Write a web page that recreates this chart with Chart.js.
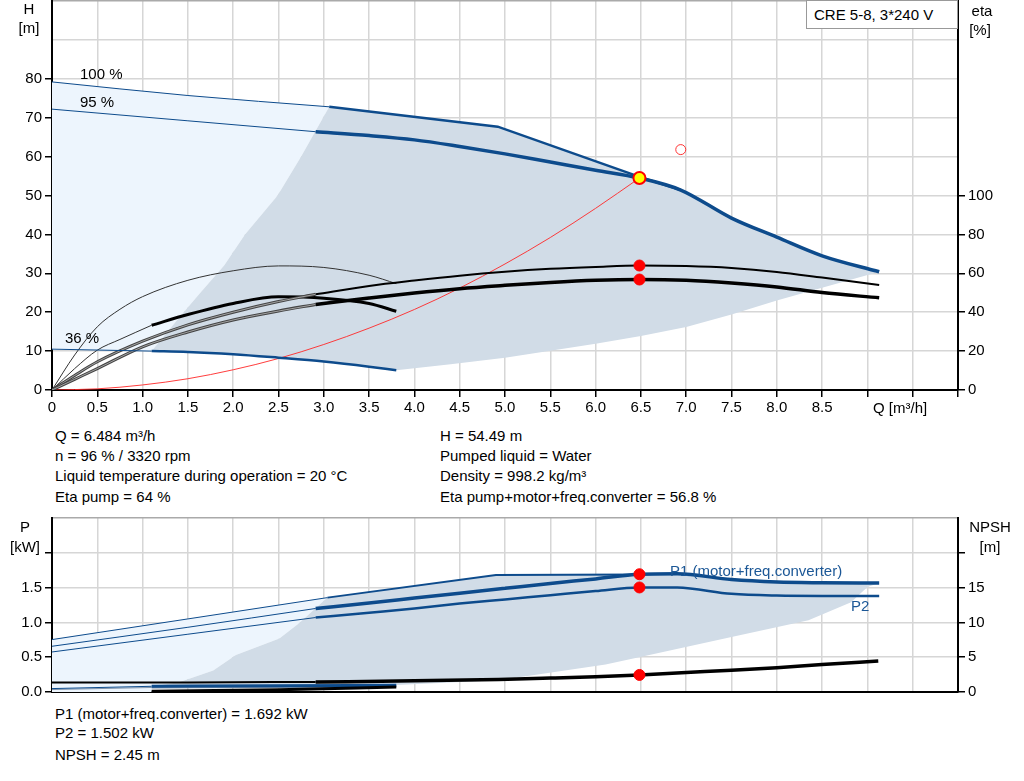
<!DOCTYPE html>
<html>
<head>
<meta charset="utf-8">
<script src="https://cdn.jsdelivr.net/npm/chart.js@4.4.1/dist/chart.umd.min.js"></script>
<style>
  body { margin: 0; background: #fff; width: 1024px; height: 781px; position: relative; overflow: hidden;
         font-family: "Liberation Sans", Arial, sans-serif; font-size: 15px; color: #000; }
  canvas { position: absolute; left: 0; }
  .t { position: absolute; white-space: nowrap; line-height: 18px; }
  .c { text-align: center; }
</style>
</head>
<body>
<canvas id="topChart" width="1024" height="420" style="top:0"></canvas>
<canvas id="botChart" width="1024" height="188" style="top:516px"></canvas>

<div class="t" style="left:806px;top:0;width:150px;height:27px;border:1px solid #999;background:#fff;">
  <span style="position:absolute;left:7px;top:5px">CRE 5-8, 3*240 V</span></div>
<div class="t c" style="left:14px;top:0;width:30px">H</div>
<div class="t c" style="left:14px;top:19px;width:30px">[m]</div>
<div class="t c" style="left:962px;top:2px;width:40px">eta</div>
<div class="t c" style="left:960px;top:21px;width:40px">[%]</div>
<div class="t" style="left:873px;top:399px">Q [m³/h]</div>
<div class="t" style="left:80px;top:65px">100 %</div>
<div class="t" style="left:80px;top:93px">95 %</div>
<div class="t" style="left:65px;top:329px">36 %</div>

<div class="t" style="left:55px;top:427px">Q = 6.484 m³/h</div>
<div class="t" style="left:55px;top:447px">n = 96 % / 3320 rpm</div>
<div class="t" style="left:55px;top:467px">Liquid temperature during operation = 20 °C</div>
<div class="t" style="left:55px;top:488px">Eta pump = 64 %</div>
<div class="t" style="left:440px;top:427px">H = 54.49 m</div>
<div class="t" style="left:440px;top:447px">Pumped liquid = Water</div>
<div class="t" style="left:440px;top:467px">Density = 998.2 kg/m³</div>
<div class="t" style="left:440px;top:488px">Eta pump+motor+freq.converter = 56.8 %</div>

<div class="t c" style="left:5px;top:518px;width:40px">P</div>
<div class="t c" style="left:5px;top:538px;width:40px">[kW]</div>
<div class="t c" style="left:965px;top:518px;width:50px">NPSH</div>
<div class="t c" style="left:965px;top:538px;width:50px">[m]</div>
<div class="t" style="left:670px;top:562px;color:#1b5796">P1 (motor+freq.converter)</div>
<div class="t" style="left:851px;top:597px;color:#1b5796">P2</div>

<div class="t" style="left:55px;top:705px">P1 (motor+freq.converter) = 1.692 kW</div>
<div class="t" style="left:55px;top:724px">P2 = 1.502 kW</div>
<div class="t" style="left:55px;top:746px">NPSH = 2.45 m</div>

<script>
// ---- H chart data (Q in m3/h, H in m) ----
const q100Thin = [0, 1.5, 3.06];
const h100Thin = [79.2, 75.7, 72.8];
const q100 = [3.06, 4.92, 6.51, 6.94];
const h100 = [72.8, 67.7, 54.6, 51.4];
const q95Thin = [0, 1.5, 2.91];
const h95Thin = [72.2, 69.2, 66.4];
const q95 = [2.91, 3.5, 4.0, 4.5, 5.0, 5.5, 6.0, 6.484, 6.94, 7.5, 8.0, 8.5, 9.13];
const h95 = [66.4, 65.4, 64.3, 62.6, 60.7, 58.6, 56.5, 54.49, 51.4, 44.2, 39.3, 34.5, 30.4];
const q36Thin = [0, 1.1];
const h36Thin = [10.5, 10.0];
const q36 = [1.1, 1.5, 2.0, 2.5, 3.0, 3.5, 3.8];
const h36 = [10.0, 9.8, 9.2, 8.3, 7.3, 6.0, 5.1];
const qSys = [0, 0.5, 1, 1.5, 2, 2.5, 3, 3.5, 4, 4.5, 5, 5.5, 6, 6.484];
const hSys = [0, 0.3, 1.3, 2.9, 5.2, 8.1, 11.7, 15.9, 20.7, 26.2, 32.4, 39.2, 46.7, 54.49];
// area edges
const qAreaLeft = [1.1, 1.4, 1.63, 1.9, 2.13, 2.49, 2.75, 3.06];
const hAreaLeft = [10.0, 18.5, 24.8, 32, 40, 50, 60, 72.8];
const qAreaTop = [4.92, 6.51, 6.94, 7.5, 8.0, 8.5, 9.13];
const hAreaTop = [67.7, 54.6, 51.4, 44.2, 39.3, 34.5, 30.4];
const qAreaLow = [9.13, 8.5, 8.0, 7.5, 7.0, 6.5, 6.0, 5.0, 4.4, 3.8];
const hAreaLow = [30.4, 26.3, 23.0, 19.4, 16.2, 13.9, 11.9, 8.3, 6.6, 5.1];

// ---- eta data (%) ----
const qEtaPumpThin = [0, 0.25, 0.5, 1.0, 1.5, 2.0, 2.5, 2.91];
const etaPumpThin = [0, 7.5, 14.5, 25.1, 33.5, 40, 45.5, 49.2];
const qEtaPump = [2.91, 3.5, 4.0, 4.5, 5.0, 5.5, 6.0, 6.484, 7.0, 7.5, 8.0, 8.5, 9.13];
const etaPump = [49.2, 53.5, 56.3, 58.8, 60.8, 62.3, 63.3, 64, 63.7, 62.7, 60.7, 57.8, 54.0];
const qEtaTotThin = [0, 0.25, 0.5, 1.0, 1.5, 2.0, 2.5, 2.91];
const etaTotThin = [0, 5.5, 11, 22.2, 29.8, 36, 40.6, 44];
const qEtaTot = [2.91, 3.5, 4.0, 4.5, 5.0, 5.5, 6.0, 6.484, 7.0, 7.5, 8.0, 8.5, 9.13];
const etaTot = [44, 47.3, 49.9, 52.1, 53.8, 55.3, 56.4, 56.8, 56.4, 55.0, 53.0, 50.1, 47.4];
const qEtaPump36 = [0, 0.25, 0.5, 0.75, 1.0, 1.5, 2.0, 2.5, 3.0, 3.5, 3.8];
const etaPump36 = [0, 18, 32.5, 41.5, 48, 56.4, 61.3, 63.8, 63, 59, 54.7];
const qEtaTot36Thin = [0, 0.25, 0.5, 0.75, 1.1];
const etaTot36Thin = [0, 11, 20.5, 26, 33.3];
const qEtaTot36 = [1.1, 1.5, 2.0, 2.5, 3.0, 3.5, 3.8];
const etaTot36 = [33.3, 38.8, 44.5, 47.9, 47.2, 44.5, 40.5];

// ---- power data (kW) and NPSH (m) ----
const qPMaxThin = [0, 1.5, 3.04];
const pMaxThin = [0.753, 1.05, 1.356];
const qPMax = [3.04, 4.9, 6.5];
const pMax = [1.356, 1.68, 1.69];
const qP1Thin = [0, 1.5, 2.91];
const p1Thin = [0.657, 0.93, 1.20];
const qP1 = [2.91, 3.5, 4.0, 4.5, 5.0, 5.5, 6.0, 6.484, 6.9, 7.5, 8.0, 8.5, 9.13];
const p1 = [1.20, 1.28, 1.35, 1.42, 1.49, 1.56, 1.625, 1.692, 1.70, 1.615, 1.58, 1.57, 1.566];
const qP2Thin = [0, 1.5, 2.91];
const p2Thin = [0.575, 0.83, 1.07];
const qP2 = [2.91, 3.5, 4.0, 4.5, 5.0, 5.5, 6.0, 6.484, 6.9, 7.5, 8.0, 8.5, 9.13];
const p2 = [1.07, 1.14, 1.20, 1.27, 1.33, 1.39, 1.45, 1.502, 1.50, 1.41, 1.385, 1.38, 1.38];
const qP1_36Thin = [0, 1.1];
const p1_36Thin = [0.049, 0.082];
const qP1_36 = [1.1, 2.5, 3.8];
const p1_36 = [0.082, 0.09, 0.096];
const qP2_36Thin = [0, 1.1];
const p2_36Thin = [0.035, 0.065];
const qP2_36 = [1.1, 2.5, 3.8];
const p2_36 = [0.065, 0.072, 0.08];
const qNpshThin = [0, 1.5, 2.91];
const npshThin = [1.35, 1.38, 1.44];
const qNpsh = [2.91, 4.0, 4.93, 5.5, 6.0, 6.484, 7.0, 7.5, 8.0, 8.5, 9.12];
const npsh = [1.44, 1.6, 1.8, 2.0, 2.2, 2.45, 2.8, 3.12, 3.5, 3.95, 4.45];
const qNpsh36 = [1.1, 2.5, 3.8];
const npsh36 = [0.1, 0.34, 0.72];
const qPAreaLeft = [1.1, 1.41, 1.78, 2.03, 2.51, 2.73, 3.04];
const pAreaLeft = [0.08, 0.144, 0.31, 0.53, 0.77, 0.99, 1.356];
const qPAreaTop = [4.9, 6.5, 6.9, 7.5, 8.0, 8.5, 9.13];
const pAreaTop = [1.68, 1.69, 1.70, 1.615, 1.58, 1.57, 1.566];
const qPAreaLow = [9.0, 8.82, 8.35, 7.5, 6.53, 6.11, 4.93, 3.8];
const pAreaLow = [1.51, 1.29, 1.03, 0.79, 0.513, 0.394, 0.168, 0.1];

// duty point
const dutyQ = 6.484, dutyH = 54.49, dutyEtaPump = 64, dutyEtaTot = 56.8;
const dutyP1 = 1.692, dutyP2 = 1.502, dutyNpsh = 2.45;
const markQ = 6.94, markH = 61.8;

const BLUE = '#0d4b8c', LIGHT = '#edf5fd', GRAY = '#d1dce7', GRID = '#d6d6d6';
Chart.defaults.font.family = '"Liberation Sans", Arial, sans-serif';
Chart.defaults.font.size = 15;
Chart.defaults.color = '#000';

function pts(qs, vs) { return qs.map((q, i) => ({ x: q, y: vs[i] })) }
function rev(a) { return a.slice().reverse() }
function line(qs, vs, color, width, axis) {
  return { data: pts(qs, vs), borderColor: color, borderWidth: width, yAxisID: axis,
           pointRadius: 0, fill: false, cubicInterpolationMode: 'monotone' }
}
function straight(qs, vs, color, width, axis) {
  return { data: pts(qs, vs), borderColor: color, borderWidth: width, yAxisID: axis,
           pointRadius: 0, fill: false, tension: 0 }
}
function area(qs, vs, color, axis) {
  return { data: pts(qs, vs), borderColor: 'rgba(0,0,0,0)', borderWidth: 0, backgroundColor: color,
           yAxisID: axis, pointRadius: 0, fill: 'shape', tension: 0 }
}
function dot(q, v, axis, bg, border, r, bw) {
  return { data: [{ x: q, y: v }], showLine: false, yAxisID: axis, pointRadius: r,
           pointBackgroundColor: bg, pointBorderColor: border, pointBorderWidth: bw }
}
function ordered(list) { list.forEach((d, i) => d.order = list.length - i); return list }
function noPad(s) { s.paddingTop = 0; s.paddingBottom = 0; s.paddingLeft = 0; s.paddingRight = 0 }

function tickCol(limit) { return c => (c.tick && c.tick.value > limit) ? 'rgba(0,0,0,0)' : '#000' }
function qScale(showLabels) {
  return {
    type: 'linear', min: 0, max: 10,
    afterFit: s => { s.height = showLabels ? 30 : 12; noPad(s) },
    ticks: { display: showLabels, stepSize: 0.5, autoSkip: false, maxRotation: 0, padding: 2,
             callback: v => v > 8.6 ? '' : (v === 0 ? '0' : (Math.round(v * 10) / 10).toFixed(1)) },
    grid: { color: GRID, lineWidth: 1.5, tickColor: '#000', tickLength: 7, tickWidth: 1.5, drawTicks: showLabels },
    border: { color: '#000', width: 2 }
  }
}
function sideScale(pos, max, step, labelMax, tickMax, width, fmt, drawGrid) {
  return {
    position: pos, min: 0, max: max,
    afterFit: s => { s.width = width; noPad(s) },
    ticks: { stepSize: step, padding: 3, callback: v => v > labelMax ? '' : fmt(v) },
    grid: { drawOnChartArea: drawGrid, color: c => (c.tick && c.tick.value >= max - 1e-9) ? '#aaa' : GRID,
            lineWidth: 1.5, tickColor: tickCol(tickMax), tickLength: 7, tickWidth: 1.5 },
    border: { color: '#000', width: 2 }
  }
}
const common = {
  responsive: false, animation: false, events: [],
  layout: { autoPadding: false, padding: { top: 1, left: 0, right: 0, bottom: 0 } },
  plugins: { legend: { display: false }, tooltip: { enabled: false } }
};

// ---------- H / eta chart ----------
const lightH = area(
  q100Thin.concat(rev(qAreaLeft), [0]),
  h100Thin.concat(rev(hAreaLeft), [10.5]), LIGHT, 'yH');
const grayH = area(
  qAreaLeft.concat(qAreaTop, qAreaLow, rev(q36)),
  hAreaLeft.concat(hAreaTop, hAreaLow, rev(h36)), GRAY, 'yH');

new Chart(document.getElementById('topChart'), {
  type: 'line',
  data: { datasets: ordered([
    lightH, grayH,
    line(qSys, hSys, 'rgba(255,40,40,0.9)', 1, 'yH'),
    line(qEtaPump36, etaPump36, '#333', 1, 'yEta'),
    line(qEtaTot36Thin, etaTot36Thin, '#333', 1, 'yEta'),
    line(qEtaTot36, etaTot36, '#000', 3, 'yEta'),
    line(qEtaPumpThin, etaPumpThin, '#444', 3, 'yEta'),
    line(qEtaPumpThin, etaPumpThin, '#bbb', 0.8, 'yEta'),
    line(qEtaTotThin, etaTotThin, '#444', 3, 'yEta'),
    line(qEtaTotThin, etaTotThin, '#bbb', 0.8, 'yEta'),
    line(qEtaPump, etaPump, '#000', 2, 'yEta'),
    line(qEtaTot, etaTot, '#000', 3.5, 'yEta'),
    line(q100Thin, h100Thin, BLUE, 1, 'yH'),
    line(q95Thin, h95Thin, BLUE, 1, 'yH'),
    line(q36Thin, h36Thin, BLUE, 1, 'yH'),
    line(q36, h36, BLUE, 2.5, 'yH'),
    straight(q100, h100, BLUE, 2.5, 'yH'),
    line(q95, h95, BLUE, 3.5, 'yH'),
    dot(markQ, markH, 'yH', 'rgba(0,0,0,0)', '#f33', 5, 1),
    dot(dutyQ, dutyEtaPump, 'yEta', '#f00', '#f00', 5.5, 1),
    dot(dutyQ, dutyEtaTot, 'yEta', '#f00', '#f00', 5.5, 1),
    dot(dutyQ, dutyH, 'yH', '#ffff00', '#f00', 6, 2)
  ]) },
  options: Object.assign({}, common, {
    scales: {
      x: qScale(true),
      yH: sideScale('left', 100, 10, 80, 80, 52, v => v, true),
      yEta: sideScale('right', 200, 20, 100, 100, 66, v => v, false)
    }
  })
});

// ---------- P / NPSH chart ----------
const lightP = area(
  qPMaxThin.concat(rev(qPAreaLeft), [1.1, 0]),
  pMaxThin.concat(rev(pAreaLeft), [0, 0]), LIGHT, 'yP');
const grayP = area(
  qPAreaLeft.concat(qPAreaTop, qPAreaLow),
  pAreaLeft.concat(pAreaTop, pAreaLow), GRAY, 'yP');

new Chart(document.getElementById('botChart'), {
  type: 'line',
  data: { datasets: ordered([
    lightP, grayP,
    line(qPMaxThin, pMaxThin, BLUE, 1, 'yP'),
    line(qP1Thin, p1Thin, BLUE, 1, 'yP'),
    line(qP2Thin, p2Thin, BLUE, 1, 'yP'),
    straight(qPMax, pMax, BLUE, 2, 'yP'),
    line(qP2, p2, BLUE, 2.5, 'yP'),
    line(qP1, p1, BLUE, 3.5, 'yP'),
    line(qP2_36Thin, p2_36Thin, '#7f93ab', 1, 'yP'),
    line(qP1_36Thin, p1_36Thin, BLUE, 1, 'yP'),
    line(qP2_36, p2_36, '#7f93ab', 2, 'yP'),
    line(qP1_36, p1_36, BLUE, 3, 'yP'),
    line(qNpsh36, npsh36, '#000', 3, 'yN'),
    line(qNpshThin, npshThin, '#000', 2, 'yN'),
    line(qNpsh, npsh, '#000', 3.5, 'yN'),
    dot(dutyQ, dutyP1, 'yP', '#f00', '#f00', 5.5, 1),
    dot(dutyQ, dutyP2, 'yP', '#f00', '#f00', 5.5, 1),
    dot(dutyQ, dutyNpsh, 'yN', '#f00', '#f00', 5.5, 1)
  ]) },
  options: Object.assign({}, common, {
    layout: { autoPadding: false, padding: { top: 2, left: 0, right: 0, bottom: 0 } },
    scales: {
      x: qScale(false),
      yP: sideScale('left', 2.5, 0.5, 1.6, 2.1, 52, v => v.toFixed(1), true),
      yN: sideScale('right', 25, 5, 16, 21, 66, v => v, false)
    }
  })
});
</script>
</body>
</html>
